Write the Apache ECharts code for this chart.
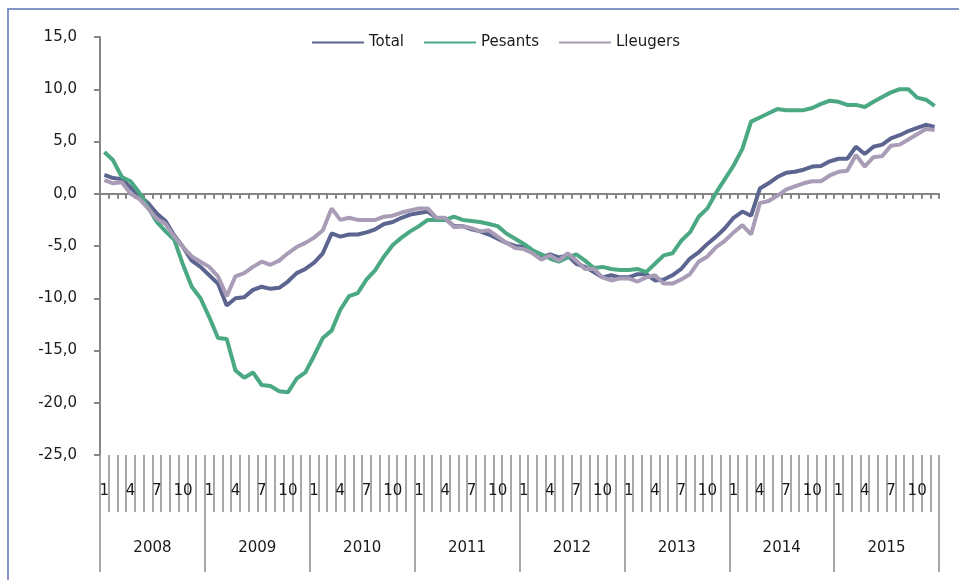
<!DOCTYPE html>
<html>
<head>
<meta charset="utf-8">
<script src="https://cdn.jsdelivr.net/npm/echarts@6/dist/echarts.min.js"></script>
<style>
  html, body { margin: 0; padding: 0; background: #fff; }
  #chart { width: 959px; height: 580px; }
</style>
</head>
<body>
<div id="chart"></div>
<script>
var years = ['2008', '2009', '2010', '2011', '2012', '2013', '2014', '2015'];
var monthTicks = [1, 4, 7, 10];

var total = [
    1.8, 1.5, 1.4, 0.6, -0.2, -0.9, -1.9, -2.6, -4.0, -5.1, -6.4, -7.0,
    -7.8, -8.6, -10.7, -10.0, -9.9, -9.2, -8.9, -9.1, -9.0, -8.4, -7.6, -7.2,
    -6.6, -5.7, -3.8, -4.1, -3.9, -3.9, -3.7, -3.4, -2.9, -2.7, -2.3, -2.0,
    -1.85, -1.7, -2.3, -2.4, -3.1, -3.1, -3.4, -3.6, -3.9, -4.3, -4.7, -5.0,
    -5.1, -5.6, -6.1, -5.8, -6.1, -5.9, -6.7, -7.0, -7.5, -8.0, -7.8, -8.0,
    -8.0, -7.7, -7.7, -8.3, -8.2, -7.8, -7.2, -6.2, -5.6, -4.8, -4.1, -3.3,
    -2.3, -1.7, -2.1, 0.5, 1.0, 1.6, 2.0, 2.1, 2.3, 2.6, 2.65, 3.1,
    3.35, 3.35, 4.5, 3.8, 4.5, 4.7, 5.3, 5.6, 6.0, 6.3, 6.6, 6.4
];
var pesants = [
    4.0, 3.2, 1.6, 1.2, 0.1, -1.3, -2.7, -3.6, -4.4, -6.8, -8.9, -10.0,
    -11.8, -13.8, -13.9, -16.9, -17.6, -17.1, -18.3, -18.4, -18.9, -19.0, -17.7, -17.1,
    -15.5, -13.8, -13.1, -11.1, -9.8, -9.5, -8.2, -7.3, -6.0, -4.9, -4.2, -3.6,
    -3.1, -2.5, -2.5, -2.5, -2.2, -2.5, -2.6, -2.7, -2.9, -3.1, -3.8, -4.3,
    -4.8, -5.4, -5.8, -6.2, -6.5, -6.1, -5.8, -6.4, -7.1, -7.0, -7.2, -7.3,
    -7.3, -7.2, -7.5, -6.7, -5.9, -5.7, -4.5, -3.7, -2.2, -1.4, 0.1, 1.4,
    2.7, 4.3, 6.9, 7.3, 7.7, 8.1, 8.0, 8.0, 8.0, 8.2, 8.6, 8.9,
    8.8, 8.5, 8.5, 8.3, 8.8, 9.25, 9.7, 10.0, 10.0, 9.2, 9.0, 8.4
];
var lleugers = [
    1.3, 1.0, 1.1, 0.0, -0.5, -1.4, -2.4, -2.9, -4.1, -5.1, -6.0, -6.5,
    -7.0, -7.9, -9.8, -7.9, -7.6, -7.0, -6.5, -6.8, -6.4, -5.7, -5.1, -4.7,
    -4.2, -3.5, -1.4, -2.5, -2.3, -2.5, -2.5, -2.5, -2.2, -2.1, -1.8, -1.6,
    -1.4, -1.4, -2.3, -2.3, -3.2, -3.1, -3.3, -3.6, -3.5, -4.1, -4.7, -5.2,
    -5.3, -5.7, -6.3, -5.9, -6.4, -5.7, -6.4, -7.2, -7.2, -8.0, -8.3, -8.1,
    -8.1, -8.4, -8.0, -7.8, -8.6, -8.6, -8.2, -7.7, -6.5, -6.0, -5.1, -4.5,
    -3.7, -3.0, -3.9, -0.9, -0.7, -0.2, 0.4, 0.7, 1.0, 1.2, 1.2, 1.75,
    2.1, 2.2, 3.7, 2.6, 3.5, 3.6, 4.6, 4.7, 5.2, 5.7, 6.2, 6.1
];

// one category per month, "2008-1" ... "2015-12"
var months = [];
years.forEach(function (y) {
    for (var m = 1; m <= 12; m++) months.push(y + '-' + m);
});

var font = 'DejaVu Sans';
var axisGray = '#868686';
var tickGray = '#8c8c8c';

var chart = echarts.init(document.getElementById('chart'));
var option = {
    animation: false,
    backgroundColor: '#fff',
    textStyle: { fontFamily: font },
    graphic: [{
        type: 'rect',
        shape: { x: 8, y: 9, width: 1000, height: 1000 },
        style: { fill: 'none', stroke: '#8494c4', lineWidth: 2 },
        silent: true
    }],
    legend: {
        left: 307,
        top: 30,
        icon: 'rect',
        itemWidth: 52,
        itemHeight: 2,
        itemGap: 20,
        textStyle: { fontFamily: font, fontSize: 15, color: '#1a1a1a' },
        data: ['Total', 'Pesants', 'Lleugers']
    },
    grid: { left: 100, right: 20, top: 37, bottom: 125 },
    xAxis: [
        {
            type: 'category',
            data: months,
            boundaryGap: true,
            axisLine: { onZero: true, lineStyle: { color: axisGray, width: 2 } },
            axisTick: { show: true, interval: 0, length: 5, lineStyle: { color: axisGray, width: 2 } },
            axisLabel: { show: false },
            splitLine: { show: false }
        },
        {
            type: 'category',
            data: months,
            position: 'bottom',
            offset: 0,
            boundaryGap: true,
            axisLine: { show: false, onZero: false },
            axisTick: { show: true, interval: 0, length: 57, lineStyle: { color: tickGray, width: 1.5 } },
            axisLabel: {
                interval: 0,
                margin: 29,
                fontFamily: font,
                fontSize: 15,
                color: '#1a1a1a',
                formatter: function (v) {
                    var m = +v.split('-')[1];
                    return monthTicks.indexOf(m) >= 0 ? String(m) : '';
                }
            },
            splitLine: { show: false }
        },
        {
            type: 'category',
            data: years,
            position: 'bottom',
            offset: 57,
            boundaryGap: true,
            axisLine: { show: false, onZero: false },
            axisTick: { show: true, interval: 0, length: 60, lineStyle: { color: tickGray, width: 1.5 } },
            axisLabel: {
                interval: 0,
                margin: 29,
                fontFamily: font,
                fontSize: 15,
                color: '#1a1a1a'
            },
            splitLine: { show: false }
        }
    ],
    yAxis: {
        type: 'value',
        min: -25,
        max: 15,
        interval: 5,
        axisLine: { show: true, lineStyle: { color: axisGray, width: 2 } },
        axisTick: { show: true, length: 6, lineStyle: { color: axisGray, width: 2 } },
        axisLabel: {
            margin: 23,
            fontFamily: font,
            fontSize: 15,
            color: '#1a1a1a',
            formatter: function (v) { return v.toFixed(1).replace('.', ','); }
        },
        splitLine: { show: false }
    },
    series: [
        {
            name: 'Total', type: 'line', data: total, symbol: 'none',
            itemStyle: { color: '#5b6590' },
            lineStyle: { color: '#5b6590', width: 4 }
        },
        {
            name: 'Pesants', type: 'line', data: pesants, symbol: 'none',
            itemStyle: { color: '#4aa883' },
            lineStyle: { color: '#4aa883', width: 4 }
        },
        {
            name: 'Lleugers', type: 'line', data: lleugers, symbol: 'none',
            itemStyle: { color: '#a89cb6' },
            lineStyle: { color: '#a89cb6', width: 4 }
        }
    ]
};
chart.setOption(option);
</script>
</body>
</html>
